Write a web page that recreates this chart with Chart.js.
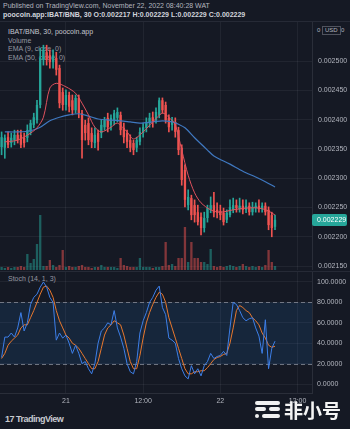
<!DOCTYPE html>
<html>
<head>
<meta charset="utf-8">
<script src="https://cdn.jsdelivr.net/npm/chart.js@4.4.1/dist/chart.umd.min.js"></script>
<style>
  html, body { margin: 0; padding: 0; background: #151924; }
  body { width: 350px; height: 429px; position: relative; overflow: hidden; font-family: "Liberation Sans", Arial, sans-serif; }
  .t { position: absolute; white-space: nowrap; font-size: 7px; line-height: 9px; color: #b2b5be; }
  .leg { color: #9598a1; }
  canvas { position: absolute; left: 0; }
  .hl { position: absolute; left: 0; width: 350px; height: 1px; background: #262a36; }
  .bar { position: absolute; background: #f0f0f0; border-radius: 2px; }
</style>
</head>
<body>
<div class="t" style="left:3px;top:1px;">Published on TradingView.com, November 22, 2022 08:40:28 WAT</div>
<div class="t" style="left:3px;top:10px;color:#d1d4dc;font-weight:bold;">poocoin.app:IBAT/BNB, 30 O:0.002217 H:0.002229 L:0.002229 C:0.002229</div>
<div class="hl" style="top:21px;"></div>

<div class="t" style="left:8px;top:27px;color:#c3c6ce;">IBAT/BNB, 30, poocoin.app</div>
<div class="t leg" style="left:8px;top:36px;">Volume</div>
<div class="t leg" style="left:8px;top:44px;">EMA (9, close, 0)</div>
<div class="t leg" style="left:8px;top:53px;">EMA (50, close, 0)</div>
<div class="t" style="left:317px;top:26px;font-size:6px;">0</div>
<div class="t" style="left:322px;top:26px;font-size:6px;padding:0 2px;border:1px solid #50535e;line-height:7px;">USD</div>
<div class="t" style="left:341px;top:26px;font-size:6px;">0</div>

<canvas id="main" width="350" height="248" style="top:22px;width:350px;height:248px;"></canvas>
<div class="hl" style="top:271px;"></div>
<div class="t leg" style="left:8px;top:274px;">Stoch (14, 1, 3)</div>
<canvas id="stoch" width="350" height="138" style="top:272px;width:350px;height:138px;"></canvas>

<div class="t" style="left:5px;top:414px;font-size:9px;line-height:11px;font-weight:bold;color:#c8cad0;letter-spacing:-0.5px;">17 TradingView</div>

<div class="bar" style="left:255px;top:401px;width:25px;height:4px;"></div>
<div class="bar" style="left:255px;top:407px;width:11px;height:4px;"></div>
<div class="bar" style="left:269px;top:407px;width:11px;height:4px;"></div>
<div class="bar" style="left:255px;top:414px;width:4px;height:4px;"></div>
<div class="bar" style="left:262px;top:414px;width:18px;height:4px;"></div>
<div class="t" style="left:284px;top:398px;font-size:19px;line-height:23px;font-weight:bold;color:#f4f4f4;font-family:'Noto Sans CJK SC';">非小号</div>

<script>
// 30 min candles, IBAT/BNB
const slotCount = 97;
const timeTickIdx = [20, 44, 68, 92];
const timeTickText = ['21', '12:00', '22', '12:00'];
const priceTicks = [0.00215, 0.0022, 0.00225, 0.0023, 0.00235, 0.0024, 0.00245, 0.0025];
const stochTicks = [0, 20, 40, 60, 80, 100];
const stochUpper = 80;
const stochLower = 20;

const opens = [.002353,.002352,.002370,.002360,.002365,.002374,.002374,.002369,.002369,.002379,
  .002391,.002399,.002425,.002502,.002515,.002510,.002498,.002505,.002488,.002447,
  .002425,.002442,.002433,.002416,.002437,.002411,.002391,.002394,.002377,.002360,
  .002377,.002377,.002387,.002403,.002391,.002399,.002403,.002408,.002386,.002377,
  .002365,.002360,.002352,.002362,.002377,.002386,.002394,.002404,.002399,.002408,
  .002433,.002425,.002403,.002391,.002396,.002382,.002352,.002314,.002254,.002266,
  .002254,.002242,.002234,.002215,.002232,.002246,.002254,.002246,.002244,.002241,
  .002229,.002237,.002246,.002254,.002247,.002253,.002246,.002253,.002242,.002249,
  .002253,.002247,.002253,.002246,.002237,.002217];
const closes = [.002370,.002369,.002357,.002369,.002374,.002365,.002357,.002360,.002382,.002394,
  .002404,.002425,.002505,.002519,.002502,.002498,.002510,.002485,.002428,.002425,
  .002442,.002422,.002416,.002437,.002411,.002365,.002377,.002365,.002362,.002374,
  .002362,.002391,.002399,.002387,.002403,.002411,.002413,.002382,.002370,.002362,
  .002352,.002348,.002365,.002379,.002387,.002396,.002403,.002396,.002413,.002433,
  .002416,.002399,.002387,.002399,.002379,.002348,.002297,.002263,.002268,.002237,
  .002237,.002225,.002215,.002232,.002249,.002254,.002241,.002241,.002237,.002225,
  .002241,.002251,.002254,.002249,.002253,.002246,.002253,.002242,.002251,.002253,
  .002247,.002253,.002242,.002220,.002215,.002229];
const highs = [.002379,.002374,.002379,.002377,.002382,.002382,.002382,.002377,.002391,.002399,
  .002411,.002433,.002522,.002527,.002527,.002519,.002519,.002515,.002493,.002454,
  .002451,.002447,.002442,.002442,.002442,.002416,.002399,.002403,.002386,.002386,
  .002382,.002399,.002404,.002411,.002408,.002416,.002420,.002413,.002394,.002382,
  .002374,.002365,.002370,.002386,.002394,.002403,.002411,.002413,.002420,.002437,
  .002437,.002430,.002408,.002404,.002403,.002387,.002357,.002323,.002280,.002271,
  .002263,.002254,.002241,.002242,.002254,.002268,.002276,.002258,.002254,.002249,
  .002246,.002263,.002266,.002263,.002266,.002263,.002263,.002258,.002259,.002258,
  .002263,.002258,.002258,.002251,.002242,.002237];
const lows = [.002340,.002334,.002352,.002353,.002357,.002360,.002352,.002353,.002362,.002374,
  .002386,.002394,.002420,.002493,.002493,.002488,.002488,.002476,.002420,.002416,
  .002416,.002413,.002408,.002411,.002403,.002334,.002365,.002357,.002352,.002352,
  .002348,.002369,.002382,.002379,.002382,.002391,.002396,.002374,.002360,.002352,
  .002345,.002340,.002345,.002357,.002370,.002379,.002387,.002387,.002394,.002403,
  .002411,.002394,.002379,.002382,.002370,.002340,.002288,.002251,.002246,.002229,
  .002225,.002220,.002203,.002208,.002225,.002241,.002234,.002232,.002229,.002220,
  .002224,.002234,.002241,.002242,.002242,.002239,.002241,.002237,.002237,.002242,
  .002242,.002242,.002237,.002212,.002200,.002212];
const volumes = [3,2,3,2,3,3,4,3,16,7,
  11,26,55,4,4,10,5,3,5,20,
  3,4,3,3,4,5,3,3,2,3,
  3,5,3,3,3,3,2,12,5,4,
  3,3,3,12,3,3,3,2,3,3,
  4,28,5,6,4,12,12,43,8,28,
  12,12,8,8,6,21,4,3,4,3,
  4,5,4,3,4,6,4,3,4,3,
  4,3,5,20,8,4];

const ema9Idx = [1,5,9,11,13,15,17,20,23,25,27,29,31,34,36,39,41,44,47,50,52,54,56,58,60,62,65,68,72,76,80,83,85];
const ema9Val = [.002362,.002365,.002377,.002386,.002404,.002454,.002462,.002456,.002445,.002428,.002408,.002387,.002379,.002387,.002394,.002379,.002367,.002379,.002396,.002411,.002404,.002391,.002348,.002305,.002275,.002258,.002246,.002242,.002246,.002249,.002249,.002244,.002237];
const ema50Idx = [1,5,9,12,15,18,21,24,27,30,34,37,40,43,47,50,53,55,57,60,64,66,71,75,79,82,85];
const ema50Val = [.002379,.002379,.002381,.002387,.002398,.002404,.002408,.002410,.002406,.002401,.002399,.002398,.002396,.002394,.002396,.002398,.002396,.002392,.002386,.002369,.002348,.002338,.002324,.002312,.002302,.002294,.002285];

const stochK = [26,46,46,50,46,55,70,52,60,78,
  85,88,95,100,95,85,80,43,50,45,
  48,40,30,38,30,20,22,15,10,20,
  40,52,55,60,58,72,55,46,35,20,
  12,10,22,50,62,70,80,85,92,96,
  75,68,45,43,40,25,15,8,5,18,
  10,15,8,18,22,30,25,27,28,32,
  28,55,80,78,72,65,62,64,65,55,
  47,30,63,15,35,42];
const stochD = [25,30,38,42,45,48,55,58,58,65,
  72,80,88,95,96,92,85,72,62,55,
  48,45,40,38,35,30,25,20,15,15,
  22,35,48,55,58,62,60,58,48,35,
  22,15,15,28,45,60,70,78,85,90,
  88,80,65,55,45,35,25,15,10,10,
  12,12,13,13,16,20,24,26,27,29,
  30,40,55,72,77,75,72,70,65,62,
  58,50,45,38,36,37];

const UP = '#26a69a';
const DOWN = '#ef5350';
const gridColor = 'rgba(240,243,250,0.06)';
const axisText = '#b2b5be';
const family = '"Liberation Sans", Arial, sans-serif';

const labels = Array.from({ length: slotCount }, (_, i) => i);
const isUp = opens.map((o, i) => closes[i] >= o);
const candleColors = isUp.map(u => u ? UP : DOWN);
const volColors = isUp.map(u => u ? 'rgba(38,166,154,0.5)' : 'rgba(239,83,80,0.5)');

function sparse(idx, vals) {
  const out = new Array(slotCount).fill(null);
  idx.forEach((k, j) => { out[k] = vals[j]; });
  return out;
}

const xGrid = {
  offset: false,
  drawTicks: false,
  color: c => timeTickIdx.includes(c.index) ? gridColor : 'transparent'
};

const lastPriceTag = {
  id: 'lastPriceTag',
  afterDraw(chart) {
    const { ctx, chartArea, scales } = chart;
    const v = closes[closes.length - 1];
    const y = Math.round(scales.y.getPixelForValue(v));
    ctx.save();
    ctx.fillStyle = UP;
    ctx.beginPath();
    ctx.roundRect(chartArea.right, y - 6, 35, 12, 2);
    ctx.fill();
    ctx.fillStyle = '#ffffff';
    ctx.font = '7px ' + family;
    ctx.textBaseline = 'middle';
    ctx.fillText(v.toFixed(6), chartArea.right + 5, y + 0.5);
    ctx.restore();
  }
};

new Chart(document.getElementById('main'), {
  type: 'bar',
  data: {
    labels: labels,
    datasets: [
      {
        type: 'line', label: 'EMA 9', data: sparse(ema9Idx, ema9Val), yAxisID: 'y',
        borderColor: '#e0525e', borderWidth: 1, pointRadius: 0, spanGaps: true, tension: 0.3, order: 0
      },
      {
        type: 'line', label: 'EMA 50', data: sparse(ema50Idx, ema50Val), yAxisID: 'y',
        borderColor: '#3f78c0', borderWidth: 1.2, pointRadius: 0, spanGaps: true, tension: 0.3, order: 1
      },
      {
        label: 'body', data: opens.map((o, i) => [o, closes[i]]), yAxisID: 'y',
        backgroundColor: candleColors, barPercentage: 0.72, categoryPercentage: 1,
        minBarLength: 1, grouped: false, order: 2
      },
      {
        label: 'wick', data: lows.map((l, i) => [l, highs[i]]), yAxisID: 'y',
        backgroundColor: candleColors, barThickness: 1, grouped: false, order: 3
      },
      {
        label: 'Volume', data: volumes, yAxisID: 'yv',
        backgroundColor: volColors, barPercentage: 0.72, categoryPercentage: 1, grouped: false, order: 4
      }
    ]
  },
  options: {
    responsive: false,
    animation: false,
    devicePixelRatio: 1,
    layout: { padding: 0 },
    plugins: { legend: { display: false }, tooltip: { enabled: false } },
    scales: {
      x: {
        offset: true,
        grid: xGrid,
        border: { display: false },
        ticks: { display: false },
        afterFit: s => { s.height = 0; s.paddingLeft = 0; s.paddingRight = 0; }
      },
      y: {
        position: 'right',
        min: 0.0021433,
        max: 0.0025666,
        afterBuildTicks: s => { s.ticks = priceTicks.map(v => ({ value: v })); },
        afterFit: s => { s.width = 38; s.paddingTop = 0; s.paddingBottom = 0; },
        grid: { color: gridColor, drawTicks: false },
        border: { display: true, color: '#2a2e39' },
        ticks: { padding: 6, color: axisText, font: { size: 7, family: family }, callback: v => v.toFixed(6) }
      },
      yv: { display: false, min: 0, max: 248 }
    }
  },
  plugins: [lastPriceTag]
});

const stochBand = {
  id: 'stochBand',
  beforeDatasetsDraw(chart) {
    const { ctx, chartArea: a, scales } = chart;
    const yTop = Math.round(scales.y.getPixelForValue(stochUpper)) + 0.5;
    const yBot = Math.round(scales.y.getPixelForValue(stochLower)) + 0.5;
    ctx.save();
    ctx.fillStyle = 'rgba(33,150,243,0.11)';
    ctx.fillRect(a.left, yTop, a.right - a.left, yBot - yTop);
    ctx.strokeStyle = 'rgba(150,153,164,0.7)';
    ctx.lineWidth = 1;
    ctx.setLineDash([4, 3]);
    [yTop, yBot].forEach(p => {
      ctx.beginPath();
      ctx.moveTo(a.left, p);
      ctx.lineTo(a.right, p);
      ctx.stroke();
    });
    ctx.restore();
  }
};

new Chart(document.getElementById('stoch'), {
  type: 'line',
  data: {
    labels: labels,
    datasets: [
      { label: '%K', data: stochK, borderColor: '#3d7fe8', borderWidth: 1, pointRadius: 0, tension: 0 },
      { label: '%D', data: stochD, borderColor: '#e8782e', borderWidth: 1, pointRadius: 0, tension: 0 }
    ]
  },
  options: {
    responsive: false,
    animation: false,
    devicePixelRatio: 1,
    layout: { padding: 0 },
    plugins: { legend: { display: false }, tooltip: { enabled: false } },
    scales: {
      x: {
        offset: true,
        grid: xGrid,
        border: { display: true, color: '#2a2e39' },
        ticks: {
          autoSkip: false, maxRotation: 0, minRotation: 0, padding: 4,
          color: axisText, font: { size: 7, family: family },
          callback: (v, i) => {
            const k = timeTickIdx.indexOf(i);
            return k >= 0 ? timeTickText[k] : '';
          }
        },
        afterFit: s => { s.height = 17; s.paddingLeft = 0; s.paddingRight = 0; }
      },
      y: {
        position: 'right',
        min: -8.8,
        max: 109.8,
        afterBuildTicks: s => { s.ticks = stochTicks.map(v => ({ value: v })); },
        afterFit: s => { s.width = 38; s.paddingTop = 0; s.paddingBottom = 0; },
        grid: { color: gridColor, drawTicks: false },
        border: { display: true, color: '#2a2e39' },
        ticks: { padding: 5, color: axisText, font: { size: 7, family: family }, callback: v => v.toFixed(4) }
      }
    }
  },
  plugins: [stochBand]
});
</script>
</body>
</html>
